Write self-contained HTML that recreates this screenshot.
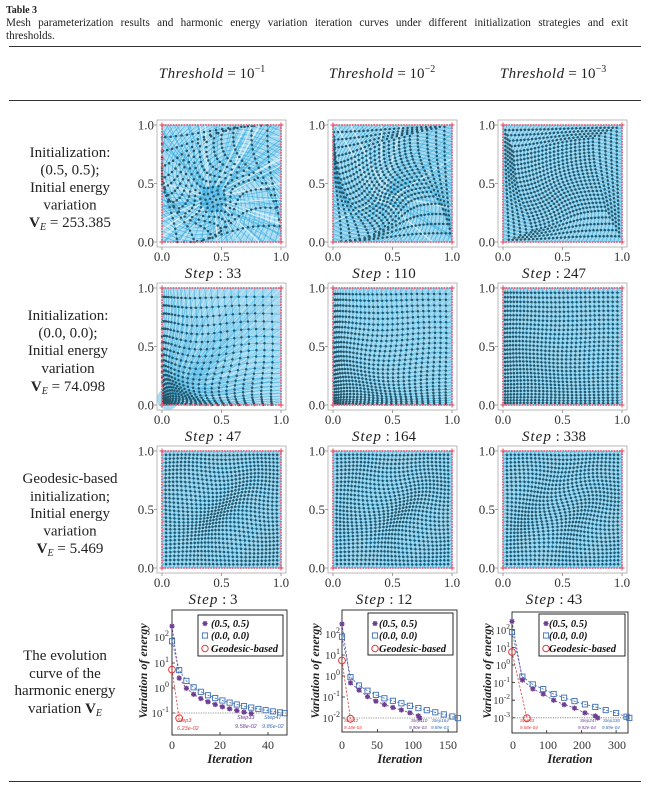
<!DOCTYPE html>
<html><head><meta charset="utf-8">
<style>
html,body{margin:0;padding:0;background:#fff;}
body{width:650px;height:790px;position:relative;overflow:hidden;}
svg{position:absolute;left:0;top:0;}
.cap{position:absolute;left:6px;width:622px;font-family:"Liberation Serif",serif;font-size:11.2px;line-height:13px;color:#222;white-space:nowrap;z-index:2;}
.j{text-align:justify;text-align-last:justify;}
</style></head><body>
<svg id="s" width="650" height="790" viewBox="0 0 650 790" xmlns="http://www.w3.org/2000/svg" font-family="Liberation Serif, serif">
<rect x="0" y="0" width="650" height="790" fill="#fff"/>
<g id="dyn"></g>

<!-- header -->
<g fill="#222">
<text x="6" y="13" font-size="10" font-weight="bold">Table 3</text>
</g>
<g stroke="#333" stroke-width="1.1">
<line x1="9" y1="46.5" x2="641" y2="46.5"/>
<line x1="9" y1="100.5" x2="641" y2="100.5"/>
<line x1="9" y1="781.5" x2="641" y2="781.5"/>
</g>
<g font-size="15" fill="#222" text-anchor="middle">
<text x="212" y="78"><tspan font-style="italic" letter-spacing="0.5">Threshold</tspan> = 10<tspan dy="-6" font-size="10">−1</tspan></text>
<text x="382" y="78"><tspan font-style="italic" letter-spacing="0.5">Threshold</tspan> = 10<tspan dy="-6" font-size="10">−2</tspan></text>
<text x="553" y="78"><tspan font-style="italic" letter-spacing="0.5">Threshold</tspan> = 10<tspan dy="-6" font-size="10">−3</tspan></text>
</g>

<!-- row labels -->
<g font-size="15" fill="#222" text-anchor="middle">
<text x="70" y="157">Initialization:</text>
<text x="70" y="174.5">(0.5, 0.5);</text>
<text x="70" y="192">Initial energy</text>
<text x="70" y="209.5">variation</text>
<text x="70" y="227"><tspan font-weight="bold">V</tspan><tspan font-style="italic" font-size="10" dy="3">E</tspan><tspan dy="-3"> = 253.385</tspan></text>

<text x="68" y="320">Initialization:</text>
<text x="68" y="337.5">(0.0, 0.0);</text>
<text x="68" y="355">Initial energy</text>
<text x="68" y="373">variation</text>
<text x="68" y="391"><tspan font-weight="bold">V</tspan><tspan font-style="italic" font-size="10" dy="3">E</tspan><tspan dy="-3"> = 74.098</tspan></text>

<text x="70" y="483">Geodesic-based</text>
<text x="70" y="501">initialization;</text>
<text x="70" y="518">Initial energy</text>
<text x="70" y="535.5">variation</text>
<text x="70" y="553"><tspan font-weight="bold">V</tspan><tspan font-style="italic" font-size="10" dy="3">E</tspan><tspan dy="-3"> = 5.469</tspan></text>

<text x="65" y="660">The evolution</text>
<text x="65" y="678">curve of the</text>
<text x="65" y="695">harmonic energy</text>
<text x="65" y="713">variation <tspan font-weight="bold">V</tspan><tspan font-style="italic" font-size="10" dy="3">E</tspan></text>
</g>

<!-- mesh tick labels -->
<g font-size="13" fill="#333" text-anchor="end">
<text x="154" y="129.5">1.0</text><text x="154" y="188">0.5</text><text x="154" y="246.5">0.0</text>
<text x="325" y="129.5">1.0</text><text x="325" y="188">0.5</text><text x="325" y="246.5">0.0</text>
<text x="495" y="129.5">1.0</text><text x="495" y="188">0.5</text><text x="495" y="246.5">0.0</text>
<text x="154" y="292.5">1.0</text><text x="154" y="351">0.5</text><text x="154" y="409.5">0.0</text>
<text x="325" y="292.5">1.0</text><text x="325" y="351">0.5</text><text x="325" y="409.5">0.0</text>
<text x="495" y="292.5">1.0</text><text x="495" y="351">0.5</text><text x="495" y="409.5">0.0</text>
<text x="154" y="455.5">1.0</text><text x="154" y="514">0.5</text><text x="154" y="572.5">0.0</text>
<text x="325" y="455.5">1.0</text><text x="325" y="514">0.5</text><text x="325" y="572.5">0.0</text>
<text x="495" y="455.5">1.0</text><text x="495" y="514">0.5</text><text x="495" y="572.5">0.0</text>
</g>
<g font-size="13" fill="#333" text-anchor="middle">
<text x="162" y="261">0.0</text><text x="221.5" y="261">0.5</text><text x="281" y="261">1.0</text>
<text x="333" y="261">0.0</text><text x="392.5" y="261">0.5</text><text x="452" y="261">1.0</text>
<text x="503" y="261">0.0</text><text x="562.5" y="261">0.5</text><text x="622" y="261">1.0</text>
<text x="162" y="424">0.0</text><text x="221.5" y="424">0.5</text><text x="281" y="424">1.0</text>
<text x="333" y="424">0.0</text><text x="392.5" y="424">0.5</text><text x="452" y="424">1.0</text>
<text x="503" y="424">0.0</text><text x="562.5" y="424">0.5</text><text x="622" y="424">1.0</text>
<text x="162" y="587">0.0</text><text x="221.5" y="587">0.5</text><text x="281" y="587">1.0</text>
<text x="333" y="587">0.0</text><text x="392.5" y="587">0.5</text><text x="452" y="587">1.0</text>
<text x="503" y="587">0.0</text><text x="562.5" y="587">0.5</text><text x="622" y="587">1.0</text>
</g>
<g font-size="15" fill="#222" text-anchor="middle">
<text x="213" y="278"><tspan font-style="italic" letter-spacing="1">Step</tspan> : 33</text>
<text x="384" y="278"><tspan font-style="italic" letter-spacing="1">Step</tspan> : 110</text>
<text x="554" y="278"><tspan font-style="italic" letter-spacing="1">Step</tspan> : 247</text>
<text x="213" y="441"><tspan font-style="italic" letter-spacing="1">Step</tspan> : 47</text>
<text x="384" y="441"><tspan font-style="italic" letter-spacing="1">Step</tspan> : 164</text>
<text x="554" y="441"><tspan font-style="italic" letter-spacing="1">Step</tspan> : 338</text>
<text x="213" y="604"><tspan font-style="italic" letter-spacing="1">Step</tspan> : 3</text>
<text x="384" y="604"><tspan font-style="italic" letter-spacing="1">Step</tspan> : 12</text>
<text x="554" y="604"><tspan font-style="italic" letter-spacing="1">Step</tspan> : 43</text>
</g>

<!-- chart tick labels -->
<g font-size="11" fill="#333" text-anchor="end">
<text x="169" y="641">10<tspan dy="-5" font-size="8">2</tspan></text>
<text x="169" y="667">10<tspan dy="-5" font-size="8">1</tspan></text>
<text x="169" y="692">10<tspan dy="-5" font-size="8">0</tspan></text>
<text x="169" y="717">10<tspan dy="-5" font-size="8">-1</tspan></text>
<text x="340" y="638">10<tspan dy="-5" font-size="8">2</tspan></text>
<text x="340" y="659">10<tspan dy="-5" font-size="8">1</tspan></text>
<text x="340" y="680">10<tspan dy="-5" font-size="8">0</tspan></text>
<text x="340" y="701">10<tspan dy="-5" font-size="8">-1</tspan></text>
<text x="340" y="722">10<tspan dy="-5" font-size="8">-2</tspan></text>
</g>
<g font-size="10.5" fill="#333" text-anchor="end">
<text x="510" y="634">10<tspan dy="-5" font-size="7.5">2</tspan></text>
<text x="510" y="652">10<tspan dy="-5" font-size="7.5">1</tspan></text>
<text x="510" y="669">10<tspan dy="-5" font-size="7.5">0</tspan></text>
<text x="510" y="687">10<tspan dy="-5" font-size="7.5">-1</tspan></text>
<text x="510" y="704">10<tspan dy="-5" font-size="7.5">-2</tspan></text>
<text x="510" y="722">10<tspan dy="-5" font-size="7.5">-3</tspan></text>
</g>
<g font-size="12" fill="#333" text-anchor="middle">
<text x="172" y="749">0</text><text x="220" y="749">20</text><text x="268" y="749">40</text>
<text x="342" y="749">0</text><text x="377" y="749">50</text><text x="413" y="749">100</text><text x="448" y="749">150</text>
<text x="513" y="749">0</text><text x="548" y="749">100</text><text x="582" y="749">200</text><text x="617" y="749">300</text>
</g>
<g font-size="12.5" fill="#222" font-weight="bold" font-style="italic" text-anchor="middle">
<text x="230" y="763">Iteration</text>
<text x="400" y="763">Iteration</text>
<text x="570" y="763">Iteration</text>
<text transform="translate(147,671) rotate(-90)" font-size="12">Variation of energy</text>
<text transform="translate(319,671) rotate(-90)" font-size="12">Variation of energy</text>
<text transform="translate(491,671) rotate(-90)" font-size="12">Variation of energy</text>
</g>
<!-- legends text -->
<g font-size="10.5" fill="#111" font-weight="bold" font-style="italic">
<text x="211" y="627">(0.5, 0.5)</text>
<text x="211" y="639">(0.0, 0.0)</text>
<text x="211" y="652">Geodesic-based</text>
<text x="379" y="627">(0.5, 0.5)</text>
<text x="379" y="639">(0.0, 0.0)</text>
<text x="379" y="652">Geodesic-based</text>
<text x="549" y="627">(0.5, 0.5)</text>
<text x="549" y="639">(0.0, 0.0)</text>
<text x="549" y="652">Geodesic-based</text>
</g>
<!-- annotations -->
<g font-family="Liberation Sans, sans-serif" font-style="italic">
<g font-size="5.5">
<text x="177" y="722" fill="#e03a3a">Step3</text>
<text x="177" y="730" fill="#e03a3a">6.23e-02</text>
<text x="237" y="719" fill="#6d3f91">Step33</text>
<text x="235" y="728" fill="#6d3f91">9.58e-02</text>
<text x="264" y="719" fill="#3d6fb5">Step47</text>
<text x="262" y="728" fill="#3d6fb5">9.86e-02</text>
</g>
<g font-size="4.5">
<text x="344" y="722" fill="#e03a3a">Step12</text>
<text x="344" y="729" fill="#e03a3a">9.18e-03</text>
<text x="411" y="722" fill="#6d3f91">Step110</text>
<text x="409" y="729" fill="#6d3f91">9.90e-03</text>
<text x="432" y="722" fill="#3d6fb5">Step164</text>
<text x="431" y="729" fill="#3d6fb5">9.89e-03</text>

<text x="520" y="722" fill="#e03a3a">Step43</text>
<text x="520" y="729" fill="#e03a3a">9.58e-04</text>
<text x="580" y="722" fill="#6d3f91">Step247</text>
<text x="578" y="729" fill="#6d3f91">9.92e-04</text>
<text x="603" y="722" fill="#3d6fb5">Step338</text>
<text x="602" y="729" fill="#3d6fb5">9.89e-04</text>
</g>
</g>
</svg>
<div class="cap j" style="top:17px;">Mesh parameterization results and harmonic energy variation iteration curves under different initialization strategies and exit</div>
<div class="cap" style="top:30px;">thresholds.</div>
<script>
(function(){
const NS="http://www.w3.org/2000/svg";
const dyn=document.getElementById('dyn');
function el(tag,attrs){const e=document.createElementNS(NS,tag);for(const k in attrs)e.setAttribute(k,attrs[k]);dyn.appendChild(e);return e;}
let seed=12345;function rnd(){seed=(seed*16807)%2147483647;return (seed-1)/2147483646;}
function f1(v){return Math.round(v*10)/10;}
const W=119,H=117;
const cols=[162,333,503], rows=[125,288,451];
const BASE=[['#a4daf1','#92d2ed','#8fd0ec'],['#a4daf1','#92d2ed','#8fd0ec'],['#8fd0ec','#8fd0ec','#8fd0ec']];
const NN=[[20,27,30],[24,28,30],[30,30,30]];
function clamp(x){return x<0?0:(x>1?1:x);}
function makeF(type,col){
  if(type==0){const s=[1,0.6,0.3][col],cx=0.43,cy=0.37;
    return (u,v)=>{let dx=u-cx,dy=v-cy,r=Math.hypot(dx,dy);let e=Math.min(u,1-u,v,1-v),w=Math.min(1,e*6);
      let a=s*2.4*Math.exp(-r*2.5)*w, sc=1-s*0.3*Math.exp(-r*4)*w;let ca=Math.cos(a),sa=Math.sin(a);
      return [cx+sc*(dx*ca-dy*sa), cy+sc*(dx*sa+dy*ca)];};}
  if(type==1){const g=[1.9,1.45,1.2][col];
    return (u,v)=>{let w=16*u*(1-u)*v*(1-v);let x=Math.pow(u,g),y=Math.pow(v,g);
      x+=0.06*(g-1)*Math.sin(7*v+3*u)*w; y+=0.06*(g-1)*Math.sin(6*u+2*v)*w; return [x,y];};}
  const k=[1,1.2,1.4][col];
  return (u,v)=>{let w=16*u*(1-u)*v*(1-v);return [u+0.03*Math.sin(9*k*Math.hypot(u-1,v))*w, v+0.03*Math.sin(9*Math.hypot(u,v-1))*w];};
}
function meshPlot(type,col){
  const X0=cols[col],Y0=rows[type];
  el('rect',{x:X0-5,y:Y0-5,width:W+10,height:H+10,fill:'#fff',stroke:'#a8a8a8','stroke-width':0.8});
  let tk='';
  for(const t of [0,0.5,1]){const yy=f1(Y0+(1-t)*H);tk+='M'+(X0-5)+' '+yy+'h-3';const xx=f1(X0+t*W);tk+='M'+xx+' '+(Y0+H+5)+'v3';}
  el('path',{d:tk,stroke:'#888','stroke-width':0.8,fill:'none'});
  el('rect',{x:X0,y:Y0,width:W,height:H,fill:BASE[type][col]});
  const n=NN[type][col],F=makeF(type,col);
  const P=[];
  for(let j=0;j<=n;j++){P.push([]);for(let i=0;i<=n;i++){let q=F(i/n,j/n);P[j].push([f1(X0+clamp(q[0])*W),f1(Y0+(1-clamp(q[1]))*H)]);}}
  let d1='',d2='';
  for(let j=0;j<=n;j++)for(let i=0;i<=n;i++){
    const p=P[j][i];
    if(i<n){const q=P[j][i+1];d1+='M'+p[0]+' '+p[1]+'L'+q[0]+' '+q[1];}
    if(j<n){const q=P[j+1][i];d1+='M'+p[0]+' '+p[1]+'L'+q[0]+' '+q[1];}
    if(i<n&&j<n){const q=P[j+1][i+1];d2+='M'+p[0]+' '+p[1]+'L'+q[0]+' '+q[1];}
  }
  el('path',{d:d1,stroke:'#3eaedf','stroke-width':0.55,fill:'none'});
  el('path',{d:d2,stroke:'#ffffff','stroke-width':0.55,'stroke-opacity':0.5,fill:'none'});
  function bpt(){const t=rnd()*4;let u,v;if(t<1){u=t;v=0;}else if(t<2){u=1;v=t-1;}else if(t<3){u=3-t;v=1;}else{u=0;v=4-t;}return [X0+u*W,Y0+(1-v)*H];}
  if(type==0&&col<2){
    const cx=X0+0.43*W,cy=Y0+0.63*H;let dr='',dw='';
    const nr=col==0?110:30, nw=col==0?22:8;
    for(let k=0;k<nr;k++){const b=bpt();dr+='M'+f1(cx+(rnd()-0.5)*14)+' '+f1(cy+(rnd()-0.5)*14)+'L'+f1(b[0])+' '+f1(b[1]);}
    for(let k=0;k<nw;k++){const b=bpt();dw+='M'+f1(cx+(rnd()-0.5)*10)+' '+f1(cy+(rnd()-0.5)*10)+'L'+f1(b[0])+' '+f1(b[1]);}
    el('path',{d:dr,stroke:'#2ea8df','stroke-width':0.8,'stroke-opacity':0.6,fill:'none'});
    el('path',{d:dw,stroke:'#ffffff','stroke-width':1.3,'stroke-opacity':0.6,fill:'none'});
    if(col==0)el('circle',{cx:f1(cx),cy:f1(cy),r:13,fill:'#2aa6dd','fill-opacity':0.5});
  }
  if(type==1&&col==0){
    let dr='';const cx=X0+2,cy=Y0+H-2;
    for(let k=0;k<130;k++){const u=rnd(),v=rnd();dr+='M'+f1(cx+rnd()*6)+' '+f1(cy-rnd()*6)+'L'+f1(X0+u*W)+' '+f1(Y0+(1-v)*H);}
    el('path',{d:dr,stroke:'#36ade2','stroke-width':0.55,'stroke-opacity':0.55,fill:'none'});
    el('circle',{cx:X0+6,cy:Y0+H-6,r:11,fill:'#2aa6dd','fill-opacity':0.4});
  }
  let dd='';const r=1.25;
  for(let j=1;j<n;j++)for(let i=1;i<n;i++){const p=P[j][i];dd+='M'+f1(p[0]-r)+' '+p[1]+'a1.25 1.25 0 1 0 2.5 0a1.25 1.25 0 1 0 -2.5 0';}
  el('path',{d:dd,fill:'#265669'});
  el('rect',{x:X0,y:Y0,width:W,height:H,fill:'none',stroke:'#e2647a','stroke-width':1.8,'stroke-dasharray':'1.6 1.1'});
  for(const c of [[X0,Y0],[X0+W,Y0],[X0,Y0+H],[X0+W,Y0+H]]){
    el('path',{d:'M'+(c[0]-2.5)+' '+c[1]+'h5M'+c[0]+' '+(c[1]-2.5)+'v5',stroke:'#e2647a','stroke-width':1.2});
  }
}
for(let t=0;t<3;t++)for(let c=0;c<3;c++)meshPlot(t,c);

const charts=[
 {x0:172,x1:287,y0:610,y1:735,sx:2.4,yk0:688,dk:25,thr:-1,ticksK:[2,1,0,-1],ticksX:[0,20,40],lx:198,lw:85,ly:615,lh:41,
  P:[[0,2.477],[3,0.398],[6,-0.011],[9,-0.251],[12,-0.421],[15,-0.553],[18,-0.661],[21,-0.752],[24,-0.831],[27,-0.9],[30,-0.962],[33,-1.019]],
  B:[[0,1.869],[3,0.716],[6,0.283],[9,0.029],[12,-0.151],[15,-0.291],[18,-0.405],[21,-0.501],[24,-0.584],[27,-0.658],[30,-0.724],[33,-0.784],[36,-0.838],[39,-0.888],[42,-0.934],[45,-0.977],[47,-1.006]],
  R:[[0,0.738],[3,-1.206]]},
 {x0:342,x1:457,y0:610,y1:732,sx:0.707,yk0:676,dk:21,thr:-2,ticksK:[2,1,0,-1,-2],ticksX:[0,50,100,150],lx:368,lw:85,ly:613,lh:42,
  P:[[0,2.477],[12,-0.33],[24,-0.67],[36,-0.98],[48,-1.2],[60,-1.36],[72,-1.5],[84,-1.62],[96,-1.75],[108,-1.9],[110,-2.004]],
  B:[[0,1.869],[12,-0.05],[24,-0.45],[36,-0.7],[48,-0.9],[60,-1.06],[72,-1.18],[84,-1.3],[96,-1.42],[108,-1.53],[120,-1.63],[132,-1.73],[144,-1.83],[156,-1.93],[164,-2.005]],
  R:[[0,0.738],[12,-2.037]]},
 {x0:512,x1:628,y0:612,y1:733,sx:0.347,yk0:665,dk:17.6,thr:-3,ticksK:[2,1,0,-1,-2,-3],ticksX:[0,100,200,300],lx:539,lw:86,ly:614,lh:42,
  P:[[0,2.477],[30,-0.85],[60,-1.36],[90,-1.65],[120,-2.0],[150,-2.25],[180,-2.45],[210,-2.72],[240,-2.9],[247,-3.003]],
  B:[[0,1.869],[30,-0.66],[60,-1.1],[90,-1.37],[120,-1.65],[150,-1.86],[180,-2.05],[210,-2.24],[240,-2.38],[270,-2.56],[300,-2.73],[330,-2.94],[338,-3.005]],
  R:[[0,0.738],[43,-3.019]]}
];
const CP='#6d3f91',CB='#3d6fb5',CR='#e03a3a';
function star(x,y,s){el('path',{d:'M'+(x-s)+' '+y+'h'+(2*s)+'M'+x+' '+(y-s)+'v'+(2*s)+'M'+(x-s*0.75)+' '+(y-s*0.75)+'l'+(1.5*s)+' '+(1.5*s)+'M'+(x-s*0.75)+' '+(y+s*0.75)+'l'+(1.5*s)+' '+(-1.5*s),stroke:CP,'stroke-width':1.3,fill:'none'});}
function sq(x,y,s){el('rect',{x:x-s,y:y-s,width:2*s,height:2*s,fill:'none',stroke:CB,'stroke-width':0.9});}
function circ(x,y,s){el('circle',{cx:x,cy:y,r:s,fill:'none',stroke:CR,'stroke-width':1});}
for(const c of charts){
  el('rect',{x:c.x0,y:c.y0,width:c.x1-c.x0,height:c.y1-c.y0,fill:'#fff',stroke:'#222','stroke-width':0.9});
  const X=it=>c.x0+c.sx*it, Y=k=>c.yk0-c.dk*k;
  let tk='';
  for(const k of c.ticksK){tk+='M'+c.x0+' '+f1(Y(k))+'h3';}
  for(const t of c.ticksX){tk+='M'+f1(X(t))+' '+c.y1+'v-3';}
  el('path',{d:tk,stroke:'#222','stroke-width':0.8});
  el('line',{x1:c.x0,x2:c.x1,y1:f1(Y(c.thr)),y2:f1(Y(c.thr)),stroke:'#777','stroke-width':0.8,'stroke-dasharray':'1.2 1.2'});
  function line(pts,col){el('polyline',{points:pts.map(p=>f1(X(p[0]))+','+f1(Y(p[1]))).join(' '),fill:'none',stroke:col,'stroke-width':0.8,'stroke-dasharray':'2.2 1.6'});}
  line(c.B,CB);line(c.P,CP);line(c.R,CR);
  for(const p of c.B)sq(f1(X(p[0])),f1(Y(p[1])),2.6);
  for(const p of c.P)star(f1(X(p[0])),f1(Y(p[1])),2.6);
  for(const p of c.R)circ(f1(X(p[0])),f1(Y(p[1])),3.4);
  el('rect',{x:c.lx,y:c.ly,width:c.lw,height:c.lh,fill:'#fff',stroke:'#111','stroke-width':0.9});
  const mx=c.lx+7;
  star(mx,623.5,2.6);sq(mx,635.5,2.6);circ(mx,648.5,3.2);
}
})();
</script>
</body></html>
